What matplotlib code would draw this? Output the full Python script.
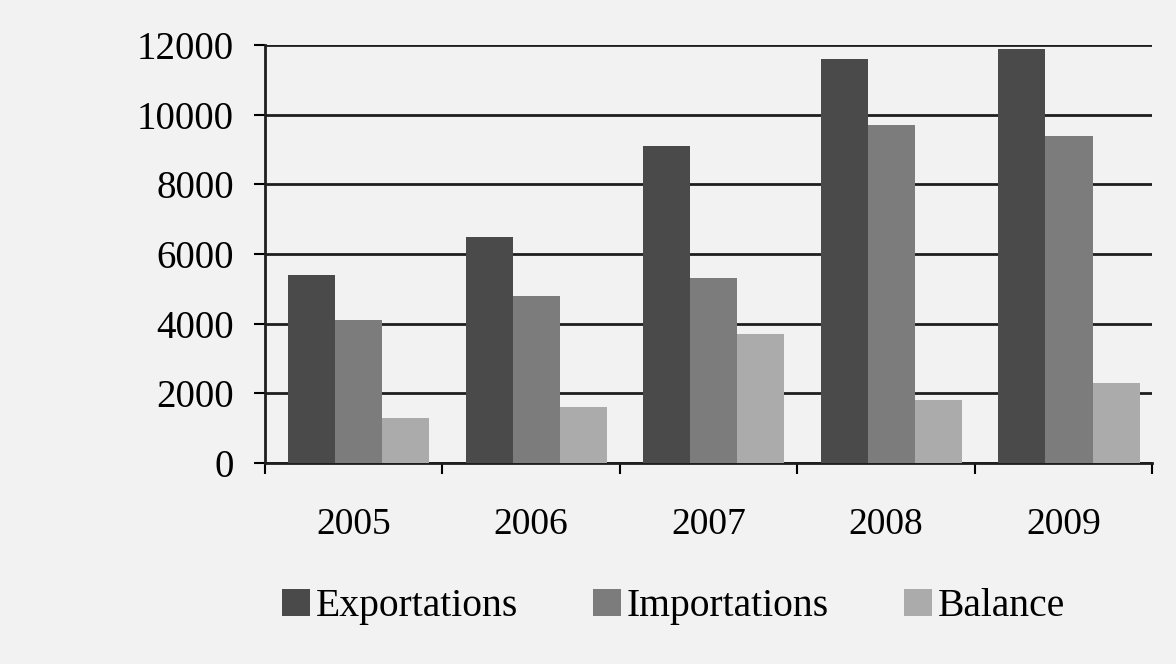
import numpy as np
import matplotlib.pyplot as plt
from matplotlib.ticker import FixedLocator

years = ['2005', '2006', '2007', '2008', '2009']
exportations = [5400, 6500, 9100, 11600, 11900]
importations = [4100, 4800, 5300, 9700, 9400]
balance = [1300, 1600, 3700, 1800, 2300]

series = [('Exportations', exportations, '#4a4a4a'),
          ('Importations', importations, '#7c7c7c'),
          ('Balance', balance, '#ababab')]

plt.rcParams['font.family'] = ['Liberation Serif', 'DejaVu Serif']

fig = plt.figure(figsize=(11.76, 6.64), dpi=100, facecolor='#f2f2f2')
ax = fig.add_axes([0.225, 0.303, 0.755, 0.629])
ax.set_facecolor('#f2f2f2')

x = np.arange(len(years))
w = 0.265
for j, (name, vals, col) in enumerate(series):
    ax.bar(x + (j - 1) * w + 0.03, vals, width=w, color=col, label=name, zorder=3)

ax.set_xlim(-0.5, len(years) - 0.5)
ax.set_ylim(0, 12000)
ax.set_yticks(range(0, 12001, 2000))
ax.set_xticks(x)
ax.set_xticklabels(years)
ax.xaxis.set_minor_locator(FixedLocator(np.arange(-0.5, len(years), 1.0)))
ax.tick_params(axis='x', which='major', length=0, pad=32, labelsize=27)
ax.tick_params(axis='x', which='minor', length=8, width=1.5, direction='out')
ax.tick_params(axis='y', length=8, width=1.5, labelsize=28, pad=14)

ax.grid(axis='y', color='#1e1e1e', linewidth=2, zorder=1)
ax.set_axisbelow(True)
for s in ['top', 'right']:
    ax.spines[s].set_visible(False)
for s in ['left', 'bottom']:
    ax.spines[s].set_linewidth(2)
    ax.spines[s].set_color('#1e1e1e')

fig.legend(loc='center', bbox_to_anchor=(0.573, 0.086), ncol=3, frameon=False,
           fontsize=28.5, handlelength=0.7, handleheight=0.7, handletextpad=0.15,
           columnspacing=1.9)

fig.savefig('out.png', dpi=100, facecolor=fig.get_facecolor())
